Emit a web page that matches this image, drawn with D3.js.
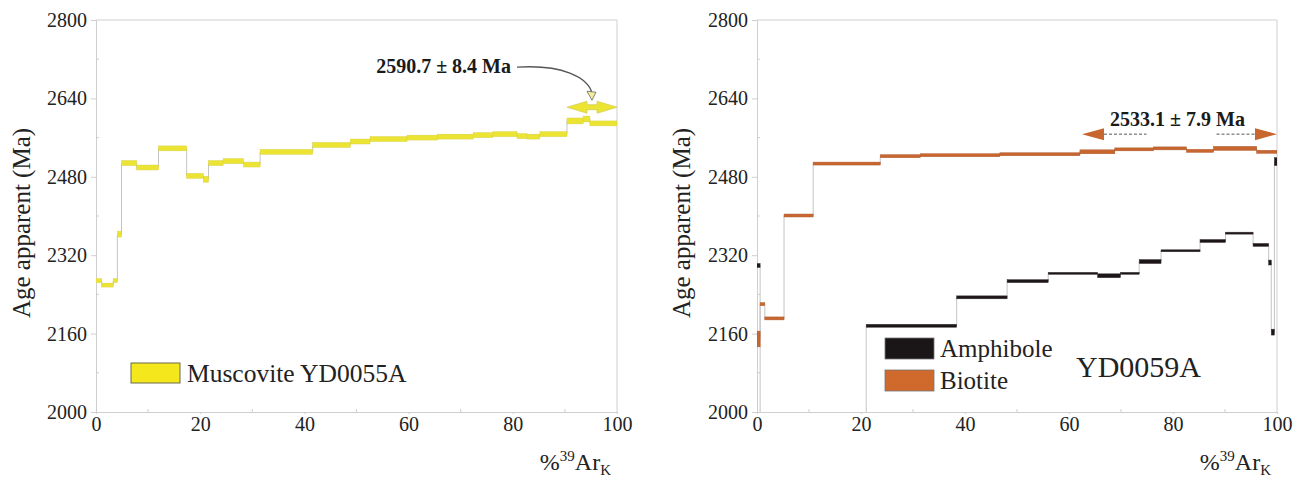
<!DOCTYPE html>
<html>
<head>
<meta charset="utf-8">
<script src="https://cdn.jsdelivr.net/npm/d3@7"></script>
<style>
  body { margin: 0; background: #fff; }
  svg { display: block; }
</style>
</head>
<body>
<div id="chart"></div>
<script>
// step data: [start %39Ar, end %39Ar, age (Ma), 1 sigma (Ma)]
const MUSCOVITE = [
    [0, 1.1, 2268, 4], [1.1, 3.3, 2259, 4], [3.3, 4.1, 2268, 4], [4.1, 4.9, 2363, 6],
    [4.9, 7.8, 2508, 5], [7.8, 12.0, 2499, 5], [12.0, 17.4, 2538, 5], [17.4, 20.6, 2482, 5],
    [20.6, 21.6, 2475, 6], [21.6, 24.4, 2508, 5], [24.4, 28.3, 2512, 5], [28.3, 31.5, 2505, 5],
    [31.5, 41.6, 2531, 5], [41.6, 48.8, 2545, 5], [48.8, 52.6, 2552, 5], [52.6, 59.7, 2557, 5],
    [59.7, 65.5, 2560, 5], [65.5, 72.4, 2562, 5], [72.4, 76.2, 2565, 5], [76.2, 80.8, 2567, 5],
    [80.8, 82.7, 2563, 5], [82.7, 85.2, 2562, 5], [85.2, 90.4, 2567, 5], [90.4, 93.5, 2594, 6],
    [93.5, 94.8, 2598, 6], [94.8, 100, 2589, 5]
];

const BIOTITE = [
    [0, 0.6, 2149, 16], [0.6, 1.5, 2220, 3], [1.5, 5.2, 2191, 3], [5.2, 10.8, 2401, 3],
    [10.8, 23.7, 2507, 3], [23.7, 31.4, 2522, 3], [31.4, 46.7, 2524, 3], [46.7, 62.1, 2526, 3],
    [62.1, 68.8, 2531, 4], [68.8, 76.2, 2536, 3], [76.2, 82.6, 2538, 3], [82.6, 87.8, 2533, 3],
    [87.8, 96.1, 2538, 4], [96.1, 100, 2531, 3]
];

const AMPHIBOLE = [
    [0, 0.6, 2299, 4], [0.6, 21.0, 1950, 3], [21.0, 38.4, 2176, 3], [38.4, 48.1, 2234, 3],
    [48.1, 56.0, 2267, 3], [56.0, 65.5, 2283, 2], [65.5, 69.9, 2278, 4], [69.9, 73.5, 2283, 2],
    [73.5, 77.7, 2307, 4], [77.7, 85.2, 2329, 2], [85.2, 90.1, 2349, 3], [90.1, 95.4, 2365, 2],
    [95.4, 98.4, 2341, 3], [98.4, 98.9, 2305, 5], [98.9, 99.5, 2163, 6], [99.5, 100, 2511, 8]
];

// plateau markers: [start %, end %, drawn at age, label]
const MUS_PLATEAU = [90.4, 100, 2622, "2590.7 ± 8.4 Ma"];
const BIO_PLATEAU = [62.5, 100, 2567, "2533.1 ± 7.9 Ma"];

const Y_TICKS = [2000, 2160, 2320, 2480, 2640, 2800];
const Y_MINOR = [2080, 2240, 2400, 2560, 2720];
const X_TICKS = [0, 20, 40, 60, 80, 100];
const X_MINOR = [10, 30, 50, 70, 90];

const COL = { mus: "#ebe432", musEdge: "#d9d246", bio: "#c8662f", amph: "#1d1619", axis: "#cfcfcf" };
const FONT = "\"Liberation Serif\"";

const W = 1296, H = 477;
const svg = d3.select("#chart").append("svg").attr("width", W).attr("height", H);

const y = d3.scaleLinear().domain([2000, 2800]).range([412, 20]);

// every text gets the serif face inline
const txt = (sel, size) => sel.style("font-family", FONT).style("font-size", size + "px").attr("fill", "#222");

function panel(id, x0, x1, titleX) {
    const x = d3.scaleLinear().domain([0, 100]).range([x0, x1]);
    const g = svg.append("g");

    g.append("clipPath").attr("id", id)
        .append("rect").attr("x", x0).attr("y", 20).attr("width", x1 - x0).attr("height", 392);

    // frame
    g.append("line").attr("x1", x0).attr("x2", x1).attr("y1", y(2800)).attr("y2", y(2800))
        .attr("stroke", COL.axis);
    g.append("line").attr("x1", x1).attr("x2", x1).attr("y1", y(2800)).attr("y2", y(2000))
        .attr("stroke", COL.axis);

    const ya = g.append("g").attr("transform", `translate(${x0},0)`)
        .call(d3.axisLeft(y).tickValues(Y_TICKS).tickSize(5).tickPadding(4).tickFormat(d3.format("d")));
    ya.select(".domain").attr("stroke", COL.axis);
    ya.selectAll("line").attr("stroke", COL.axis);
    txt(ya.selectAll("text"), 20);
    g.selectAll(null).data(Y_MINOR).enter().append("line")
        .attr("x1", x0).attr("x2", x0 + 3).attr("y1", d => y(d)).attr("y2", d => y(d))
        .attr("stroke", COL.axis);

    const xa = g.append("g").attr("transform", `translate(0,${y(2000)})`)
        .call(d3.axisBottom(x).tickValues(X_TICKS).tickSize(2).tickPadding(3));
    xa.select(".domain").attr("stroke", COL.axis);
    xa.selectAll("line").attr("stroke", COL.axis);
    txt(xa.selectAll("text"), 20);
    g.selectAll(null).data(X_MINOR).enter().append("line")
        .attr("x1", d => x(d)).attr("x2", d => x(d)).attr("y1", y(2000)).attr("y2", y(2000) - 3)
        .attr("stroke", COL.axis);

    // axis titles
    txt(g.append("text"), 25)
        .attr("transform", `translate(${titleX},${(y(2000) + y(2800)) / 2 + 7}) rotate(-90)`)
        .attr("text-anchor", "middle")
        .text("Age apparent (Ma)");

    const xt = txt(g.append("text"), 24).attr("x", x1 - 6).attr("y", 470).attr("text-anchor", "end");
    xt.append("tspan").text("%");
    xt.append("tspan").attr("dy", -9).style("font-size", "15px").text("39");
    xt.append("tspan").attr("dy", 9).text("Ar");
    xt.append("tspan").attr("dy", 5).style("font-size", "15px").text("K");

    const plot = g.append("g").attr("clip-path", `url(#${id})`);
    return { x, g, plot };
}

function steps(p, data, fill, stroke) {
    // gray connectors between consecutive steps
    const links = data.slice(1).map((d, i) => [d[0], data[i][2], d[2]]);
    p.plot.selectAll(null).data(links).enter().append("line")
        .attr("x1", d => p.x(d[0])).attr("x2", d => p.x(d[0]))
        .attr("y1", d => y(d[1])).attr("y2", d => y(d[2]))
        .attr("stroke", "#c4c4c4").attr("stroke-width", 1);
    p.plot.selectAll(null).data(data).enter().append("rect")
        .attr("x", d => p.x(d[0]))
        .attr("width", d => p.x(d[1]) - p.x(d[0]))
        .attr("y", d => y(d[2] + d[3]))
        .attr("height", d => y(d[2] - d[3]) - y(d[2] + d[3]))
        .attr("fill", fill).attr("stroke", stroke).attr("stroke-width", 0.5);
}

// ---- left panel: muscovite
const L = panel("clipL", 96, 617, 30);
steps(L, MUSCOVITE, COL.mus, COL.musEdge);

{
    const [a, b, age, label] = MUS_PLATEAU;
    const x0 = L.x(a), x1 = L.x(b), cy = y(age), h = 20, hh = 6, bh = 2.5;
    L.g.append("path")
        .attr("d", `M${x0},${cy} L${x0 + h},${cy - hh} L${x0 + h},${cy - bh} L${x1 - h},${cy - bh} L${x1 - h},${cy - hh} L${x1},${cy} L${x1 - h},${cy + hh} L${x1 - h},${cy + bh} L${x0 + h},${cy + bh} L${x0 + h},${cy + hh} Z`)
        .attr("fill", COL.mus).attr("stroke", "#d6cf55").attr("stroke-width", 0.8);
    const ex = (x0 + x1) / 2, ey = cy - 7;
    const sx = ex - 75, sy = ey - 33;
    txt(L.g.append("text"), 20).attr("x", sx - 6).attr("y", sy + 6).attr("text-anchor", "end")
        .style("font-weight", 700).attr("fill", "#1a1a1a").text(label);
    L.g.append("path")
        .attr("d", `M${sx},${sy} C${sx + 45},${sy - 3} ${ex - 4},${sy + 10} ${ex},${ey - 7}`)
        .attr("fill", "none").attr("stroke", "#555").attr("stroke-width", 1.3);
    L.g.append("path")
        .attr("d", `M${ex - 5},${ey - 9} L${ex + 4},${ey - 8} L${ex},${ey} Z`)
        .attr("fill", "#f3ee9a").attr("stroke", "#666").attr("stroke-width", 0.8);
}

// legend left
L.g.append("rect").attr("x", 131).attr("y", 363).attr("width", 49).attr("height", 20)
    .attr("fill", "#f4e81c").attr("stroke", "#6b6b4a").attr("stroke-width", 1);
txt(L.g.append("text"), 25.5).attr("x", 187).attr("y", 382).text("Muscovite YD0055A");

// ---- right panel: amphibole + biotite
const R = panel("clipR", 757, 1277, 690);
steps(R, AMPHIBOLE, COL.amph, "#3a3033");
steps(R, BIOTITE, COL.bio, "#b0582a");

{
    const [a, b, age, label] = BIO_PLATEAU;
    const x0 = R.x(a), x1 = R.x(b), cy = y(age), h = 22, hh = 6;
    const mid = (x0 + x1) / 2;
    [[x0 + h, mid - 33], [mid + 37, x1 - h]].forEach(([p, q]) => {
        R.g.append("line").attr("x1", p).attr("x2", q).attr("y1", cy).attr("y2", cy)
            .attr("stroke", "#555").attr("stroke-width", 1).attr("stroke-dasharray", "3,2");
    });
    R.g.append("path").attr("d", `M${x0},${cy} L${x0 + h},${cy - hh} L${x0 + h},${cy + hh} Z`)
        .attr("fill", COL.bio);
    R.g.append("path").attr("d", `M${x1},${cy} L${x1 - h},${cy - hh} L${x1 - h},${cy + hh} Z`)
        .attr("fill", COL.bio);
    txt(R.g.append("text"), 20).attr("x", mid - 2).attr("y", cy - 8).attr("text-anchor", "middle")
        .style("font-weight", 700).attr("fill", "#1a1a1a").text(label);
}

// legend right
const LEG = [["Amphibole", "#1a1517"], ["Biotite", "#cf6a2c"]];
LEG.forEach(([name, c], i) => {
    R.g.append("rect").attr("x", 885).attr("y", 338 + i * 32).attr("width", 49).attr("height", 21)
        .attr("fill", c).attr("stroke", "#777").attr("stroke-width", 0.8);
    txt(R.g.append("text"), 25).attr("x", 940).attr("y", 357 + i * 32).text(name);
});
txt(R.g.append("text"), 30).attr("x", 1076).attr("y", 377).text("YD0059A");
</script>
</body>
</html>
